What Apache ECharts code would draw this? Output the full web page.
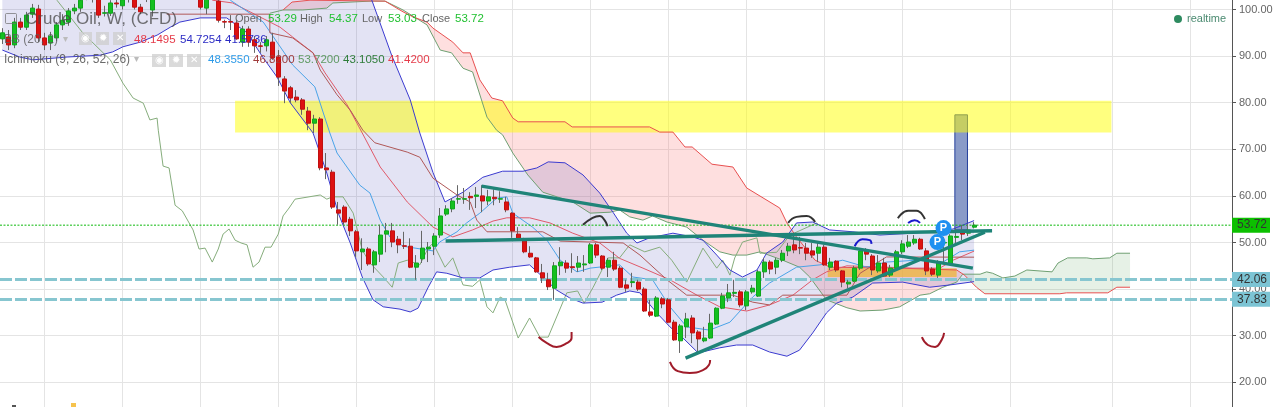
<!DOCTYPE html>
<html><head><meta charset="utf-8">
<style>html,body{margin:0;padding:0;background:#fff;overflow:hidden}#c{width:1273px;height:407px}</style>
<script src="https://cdn.jsdelivr.net/npm/echarts@6/dist/echarts.min.js"></script>
</head><body><div id="c"></div>
<script>
// weekly bars, index 0..162
const opens=[93.7,94.1,92.4,97.3,96.2,99.0,100.1,93.9,92.8,93.9,96.7,97.3,99.7,100.3,102.5,103.5,102.2,99.2,99.2,101.4,100.8,102.8,102.2,100.5,102.2,99.9,104,105,106,107,107,106,105,102.2,100.3,103,101.8,97.4,97.4,97.1,93.0,95.8,93.5,92.2,92.2,93.0,89.8,85.1,83.2,81.2,80.6,78.2,75.6,76.5,66.0,65.1,57.0,57.6,55.0,52.3,48.0,48.6,45.2,47.5,51.8,52.5,50.7,49.3,49.2,44.7,46.5,48.6,49.2,51.6,56.1,57.2,59.3,59.3,59.9,59.9,60.0,58.9,59.7,59.3,58.7,56.3,51.8,50.5,47.7,46.7,43.5,42.0,40.2,45.0,45.6,44.8,44.7,45.2,45.6,49.5,47.1,44.7,46.2,44.5,40.9,41.4,41.5,40.0,35.1,34.2,37.9,37.7,32.9,28.9,31.9,33.8,30.8,28.9,29.5,32.5,35.9,38.1,39.1,39.4,36.4,39.4,38.5,43.7,45.8,44.7,46.2,48.2,49.5,48.9,48.8,48.2,47.7,49.0,44.7,46.0,43.9,41.1,41.7,44.5,48.2,47.1,43.9,45.6,43.0,44.5,48.0,49.2,49.9,50.7,48.2,44.3,43.0,49.9,45.4,51.1,52.3,52.0,53.29];
const closes=[95.0,92.4,97.3,96.2,98.8,100.3,93.9,92.4,94.3,96.7,97.7,99.7,100.3,102.0,103.8,102.5,98.8,99.3,101.4,101.2,102.1,102.2,100.5,99.5,103.4,102.2,105,106,107,108,106,105,104,100.5,102.2,103.6,97.7,97.3,97.3,93.7,95.8,93.0,92.2,92.1,93.5,89.6,85.5,82.5,81.0,80.6,78.6,75.6,76.5,66.0,65.6,57.6,56.3,54.4,52.5,48.2,48.6,45.4,48.0,51.6,52.5,50.1,49.5,49.2,44.7,45.6,48.8,49.0,51.4,55.7,57.2,58.9,59.4,59.4,59.6,60.2,58.9,59.8,59.4,59.4,57.0,52.5,50.7,48.0,46.9,43.7,42.4,40.5,45.0,45.8,44.5,44.6,45.6,45.4,49.5,47.3,44.5,46.2,44.3,40.4,40.2,41.6,40.0,35.3,34.4,38.1,36.8,32.9,29.1,32.1,33.6,30.6,29.3,29.5,32.7,35.9,38.5,39.2,39.3,36.6,39.4,40.2,43.7,45.8,44.3,46.2,47.7,49.2,48.4,48.8,47.7,47.3,49.0,45.2,45.8,44.1,41.5,41.5,44.5,48.2,47.5,44.1,45.6,42.8,44.5,48.0,49.7,50.1,50.7,48.6,43.9,43.2,45.6,50.0,51.4,51.3,51.8,52.7,53.72];
const lows=[92.6,91.3,91.7,95.6,95.6,98.2,93.0,91.3,91.3,93.2,95.6,96.5,99.0,99.5,102.0,101.5,98.2,98.5,98.6,100.4,100.0,101.5,100.0,99.0,101.6,98.5,103.2,104.2,105.2,106.2,105.2,104.2,103.2,100.0,99.0,102.3,97.2,96.0,95.6,93.5,92.0,92.0,90.7,90.7,91.0,89.2,83.6,79.9,79.9,80.1,77.4,74.1,73.5,65.5,63.6,57.2,53.8,53.8,51.4,46.9,44.1,45.0,43.5,45.8,47.9,49.0,47.7,48.6,44.5,42.0,45.6,45.8,47.3,51.0,55.7,56.5,58.3,58.3,57.0,57.4,56.5,58.0,58.0,58.5,56.5,51.0,50.5,47.7,46.7,43.5,41.3,39.8,37.7,43.0,43.5,43.5,43.7,43.7,45.4,46.7,44.1,42.6,43.9,40.2,39.4,40.4,39.6,35.1,34.0,34.0,35.9,32.7,28.9,26.3,29.5,28.4,26.5,28.6,29.3,32.3,35.7,37.2,38.3,36.1,35.5,39.0,38.3,42.4,43.2,43.2,45.8,47.1,47.7,47.5,46.2,46.7,45.8,45.0,44.1,43.7,40.4,40.2,41.5,44.1,46.2,43.0,43.5,42.6,42.6,44.1,47.5,48.8,49.5,48.4,43.0,42.8,42.4,45.8,45.2,49.9,50.5,51.4,53.03];
const highs=[96.0,95.6,98.2,98.2,99.5,101.2,101.0,95.0,95.2,97.3,99.0,100.3,101.2,102.7,104.5,104.3,103.0,100.8,102.0,102.2,103.0,104.0,103.0,101.2,104.2,103.0,106,107,108,109,108,107,106,103.5,103.0,104.3,102.6,97.8,98.8,97.7,96.5,96.4,94.3,93.0,94.3,95.0,91.3,85.7,83.6,82.7,81.0,79.1,77.4,76.9,69.2,65.6,58.7,58.0,55.5,52.7,50.9,49.0,48.4,53.8,54.2,54.2,51.4,52.3,50.9,47.3,52.5,50.1,52.0,57.4,58.0,59.5,62.3,61.7,60.8,61.9,62.3,61.3,61.4,61.0,59.8,56.5,53.3,51.0,49.2,46.9,45.4,43.5,45.8,49.0,46.2,47.7,47.1,47.3,49.9,49.9,47.3,46.7,48.0,45.0,42.0,43.5,42.0,40.4,37.7,38.5,38.3,38.1,33.4,32.5,34.9,34.4,31.2,31.9,34.7,36.1,39.2,41.1,42.0,39.8,39.8,40.9,44.1,46.7,46.2,46.7,48.4,49.9,51.6,51.2,49.9,49.9,49.9,49.5,46.7,46.2,44.1,42.0,45.0,48.8,48.8,47.5,47.3,46.7,45.2,48.4,50.5,51.6,51.6,51.0,48.8,44.7,46.2,51.2,51.8,53.1,53.8,54.0,54.37];

const bbUpper=[[0,125],[30,120],[55,108],[61.6,102.0],[64.9,90.2],[68,80.6],[69.6,73.5],[71.8,65.0],[73.8,58.7],[76.8,60.8],[80.1,64.0],[83.4,65.3],[86.8,65.3],[89.1,66.0],[91,67.3],[93.8,67.1],[96.8,64.5],[99.6,60.6],[101.8,56.5],[104.1,52.0],[105.8,49.9],[107.9,51.0],[111.8,52.0],[115.1,51.2],[116.8,50.5],[119.1,47.3],[121.3,44.1],[123.4,42.6],[125.8,44.1],[127.4,47.7],[130.1,50.1],[132.4,54.2],[135.1,54.4],[137.9,52.7],[141.8,52.3],[146.3,51.6],[151.8,52.0],[158.5,52.9],[162,54.7]];
const bbLower=[[0,91.3],[2.9,89.8],[5.1,89.2],[10.8,89.8],[16.3,90.2],[18.4,90.9],[20.1,92],[23,93],[25.8,94.5],[28,96.2],[29.6,97.3],[33,98.2],[37.4,98.2],[40.8,95],[43.4,89.8],[45.8,85.5],[48,80],[51.8,73.5],[54.1,64.9],[56,56.3],[58,49.9],[60,42.6],[61.8,37.7],[63.5,36.2],[66.3,35.7],[68,35.1],[69.3,35.9],[71,40.4],[72.4,43.7],[74.1,43.4],[76.8,42.4],[79.6,42.4],[81.8,44.1],[84.6,44.7],[87.9,45.2],[90.1,42.6],[92.4,39.8],[94.6,38.1],[96.8,37.0],[100,37.2],[102.4,38.7],[104.6,39.6],[106.3,39.2],[109.1,34.9],[111.3,31.9],[113.8,29.1],[116,26.3],[119.6,27.4],[122.4,28],[125.1,28],[127.9,26.5],[130.8,25.6],[132.9,26.9],[135.1,30.6],[137.4,34.9],[139.1,37],[141.8,38.3],[145.1,41.3],[150.1,41.5],[154.6,40.4],[158,40.9],[162,41.6]];
const bbBasis=[[35,102],[38.4,101.4],[46.3,96.2],[48.4,94.1],[51.8,90.7],[53.8,86.4],[57.5,79.5],[60,73.5],[63,66.2],[67.5,58.7],[71.8,53.3],[75.1,51.2],[78.4,52.7],[81.8,54.6],[84.1,55.3],[87.9,55.3],[91.3,54.2],[95.1,52],[99.6,49.9],[102.9,46.6],[106.8,44.5],[111.3,42],[115.8,38.7],[119.6,36.2],[124.1,35.3],[127.9,36.6],[131.8,38.7],[135.1,42],[137.4,43.7],[140.8,45],[147.4,44.7],[151.8,44.5],[156.3,44.5],[158.5,46.2],[162,48.15]];
const tenkan=[[38,102],[43.5,97.3],[48.4,88.1],[52.1,83.4],[54.6,73.5],[55.8,69.2],[59.6,62.3],[61.3,60.6],[63,54.8],[64.6,51.2],[66.8,49.2],[71.8,48.2],[72.9,50.1],[75.8,52.3],[77.4,54.2],[79.6,56.3],[82.4,59.5],[84.1,59.8],[85.1,56.3],[88.4,53.3],[90.8,50.5],[93,46.2],[95.8,43.7],[98,44.5],[102.9,45.2],[105.1,42.6],[108.4,42],[111.3,36.2],[114.1,31.9],[117.9,31.2],[121.3,32.9],[125.1,38.3],[127.9,41.3],[132.4,44.7],[136.3,45.2],[140.1,46.2],[144.1,44.7],[147.4,45.8],[152.4,46.2],[156.8,45.8],[159.6,48],[162,48.36]];
const kijun=[[27.4,99],[44.6,99],[44.6,95],[48.4,93.9],[51.8,90.7],[53,87],[55.8,81.7],[58,78.4],[60.1,74.1],[62.1,71.4],[67.5,69.4],[69.6,68.3],[71.8,63.8],[75.8,60.2],[78,58.7],[79.1,54.8],[80.8,52.3],[90.1,52.3],[93,50.3],[103.5,49.9],[106.3,47.3],[110.8,42],[114.1,38.7],[121.8,38.7],[125.1,37.2],[127.9,36.6],[130.1,38.7],[140.8,38.7],[143,43.4],[147.4,46.9],[162,46.85]];
const chikou=[[9.1,102],[13.4,95],[18,89.2],[20.1,84.2],[21.8,81],[23.5,79.9],[24.6,76.3],[25.8,76.7],[26,74.1],[26.8,66.4],[27.8,66],[28.8,58],[30,56.8],[31.8,52.7],[32.8,48.6],[33.8,48.8],[35,45.8],[36,48.6],[36.8,51.8],[37.8,52.9],[38.8,50.5],[39.8,49.9],[40.8,49.5],[41.8,44.7],[42.8,45.8],[43.8,49],[44.8,49],[46,51.8],[46.8,55.7],[47.8,57.4],[48.8,59.3],[53,60.2],[54.1,59.3],[55,59.8],[56.8,59.8],[58.5,56.3],[60,48.4],[61.3,45.6],[63.5,42.6],[65,40.4],[66,45.6],[67.5,46.2],[69.6,45.2],[71,48.8],[71.8,49.9],[73.8,44.7],[75.1,46.7],[76.8,40.9],[78.4,40.6],[79.6,42],[80.8,36.2],[81.8,34.9],[83,38.3],[83.8,37.7],[86,29.5],[87.9,33.8],[89.6,29.7],[91,29.7],[94.1,39.2],[95.9,39.6],[97,37],[98.5,40.4],[101,46.7],[102.9,46.7],[104.6,49.5],[107.1,48],[109.6,49],[111.6,46.2],[114.1,41.5],[116.8,48.8],[119.1,44.5],[120.1,46.2],[121.3,43],[122.1,46.7],[123.4,50.1],[125.8,51],[126.3,47.7],[129.1,47.9],[131.3,51.6],[135.8,54.2],[136,53.72]];
const spanA=[[44.6,99.2],[46.8,99.9],[50.1,99.9],[54.1,100.3],[55.1,101.4],[61.3,101.8],[63.8,101.8],[66.8,99.9],[70.8,96.7],[73,91.3],[74.9,90.7],[76.8,87.4],[78.4,86.6],[80.8,76.9],[82.4,74.1],[83.4,73.1],[85.1,69.2],[87.6,64.5],[90.1,60.8],[95.1,58.7],[98,56.3],[101.3,56.5],[102.9,57],[104.6,55.5],[106.8,54.8],[108.4,55.7],[110.8,54.4],[114.1,53.3],[116.8,50.5],[119.6,48],[121.8,47.3],[124.1,47.3],[126.3,48],[130.1,46.2],[132.9,44.7],[134.6,42.6],[137.4,37.7],[140.8,36],[143,35.3],[146.8,35.5],[149.6,36.2],[153,38.7],[154.6,39],[156.8,40.4],[159.1,41.5],[160.1,43.2],[163,43.2],[164.1,43.7],[165.1,43.4],[166.8,42.4],[168.8,42.8],[170.8,44.1],[175,43.7],[176,45.6],[177.6,46.7],[180.8,46.7],[181.8,46.5],[184.6,46.7],[185.8,47.7],[188,47.7]];
const spanB=[[46.8,99.9],[48.3,101.6],[51.3,102],[63.8,101.8],[66.8,99.5],[68.5,98.4],[70.8,97.3],[71.8,96],[75.1,93],[76.8,90.7],[78,90.7],[79.6,84.9],[81.6,81],[83.4,80.4],[85.1,76.7],[86,75.9],[93.8,75.9],[95,74.8],[107.9,74.8],[109.6,73.7],[111.8,73.7],[113.8,70.5],[115,70.5],[118.3,66.8],[121.8,66.2],[124.1,61.7],[129.6,57.4],[130.8,54.2],[132.4,51.2],[135.5,46.2],[138,44.7],[149.6,44.5],[159.1,44.1],[160.4,43],[162.4,40.4],[163.8,39],[176.3,39],[177.4,39.2],[184.3,39.2],[185.8,40.4],[188,40.4]];

const lastPrice=53.72, levelA=42.06, levelB=37.83;
const priceLineSpan=[-0.388,205];
const yellowZone=[38.8,184.9,73.6,80.4];
const orangeZone=[137.6,159.1,42.6,44.5];
const targetBar=[158.8,160.9,52.7,77.4];
const trend1=[[79.9,62.1],[161.8,44.5]];
const trend2=[[73.9,50.3],[165,52.5]];
const trend3=[[113.9,25.2],[163.8,52.2]];
const redArcs=[[[89.4,29.7],[90.8,28.4],[92.4,27.6],[94.1,28.4],[94.9,29.5],[94.9,30.8]],[[111.3,24.4],[112.6,22.4],[114.6,22],[116.8,22.6],[117.8,23.7],[118,24.8]],[[153.3,29.7],[154.3,28],[155.5,27.6],[156.6,29.1],[157,30.6]]];
const darkArcs=[[[96.8,53.8],[98.4,55.3],[99.6,55.7],[100.4,54.8],[100.9,53.5]],[[131,54.2],[132.4,55.5],[134.1,55.7],[135.5,54.4]],[[149.3,55.2],[151,56.8],[152.4,56.8],[153.8,55]]];
const blueArcs=[[[142.1,49.2],[143.4,50.7],[144.6,50.5],[144.9,49.7]],[[151,54.2],[152.1,54.8],[153,54.2]]];
const pMarks=[[156.9,53.1],[155.9,50.1]];
const gridBars=[7,20,33,46,59,72,85,98,111,124,137,150,168,185,198];
const priceTicks=[20,30,40,50,60,70,80,90,100];

const barIdx=opens.map((_,i)=>i);
const FONT='"Liberation Sans",Arial,sans-serif';
const series=[];
function area(pts,fill,z,stroke){
  series.push({type:'custom',silent:true,z,data:[[pts[0][0],pts[0][1]]],encode:{x:0,y:1},
    renderItem:(p,api)=>({type:'polygon',shape:{points:pts.map(q=>api.coord(q))},style:{fill,stroke:stroke||'none',lineWidth:stroke?1:0}})});
}
function rect(r){return [[r[0],r[2]],[r[1],r[2]],[r[1],r[3]],[r[0],r[3]]];}
function line(data,color,width,z,smooth,type){
  series.push({type:'line',data,showSymbol:false,symbol:'none',silent:true,z,smooth:!!smooth,clip:false,lineStyle:{color,width,type:type||'solid',cap:'butt'}});
}
const crossX=160.25;
const pinkPts=spanB.filter(q=>q[0]<crossX).concat(spanA.filter(q=>q[0]<crossX).reverse());
const greenPts=spanA.filter(q=>q[0]>=crossX).concat(spanB.filter(q=>q[0]>=crossX).reverse());
area(pinkPts,'rgba(250,110,110,0.22)',1);
area(greenPts,'rgba(90,160,90,0.15)',1);
area(bbUpper.concat(bbLower.slice().reverse()),'rgba(70,70,180,0.15)',1);
area(rect(targetBar),'#8a9bc8',2,'#24409c');
area(rect(yellowZone),'rgba(255,255,0,0.5)',3);
area(rect(orangeZone),'rgba(240,180,50,0.72)',3);
line(spanA,'#6fa072',1,4);
line(spanB,'#e85050',1,4);
line(chikou,'#86ad7c',1,4);
line(bbUpper,'#3b3bd0',1,4);
line(bbLower,'#3b3bd0',1,4);
line(bbBasis,'#e05a6a',1,4);
line(tenkan,'#4aa3e8',1,4);
line(kijun,'#b05858',1,4);
function hLevel(v,lineStyle,bg,z){
  series.push({type:'line',data:[],silent:true,z,
    markLine:{silent:true,symbol:'none',animation:false,lineStyle,
      label:{show:true,position:'end',distance:0,formatter:v.toFixed(2),color:'#333',backgroundColor:bg,fontFamily:FONT,fontSize:12,padding:[2,2,1,5],width:31,align:'left',opacity:1},
      data:[{yAxis:v}]}});
}
hLevel(levelA,{color:'#87c6d0',width:3,type:[12,3]},'#7cc4d4',5);
hLevel(levelB,{color:'#87c6d0',width:3,type:[12,3]},'#7cc4d4',5);
hLevel(lastPrice,{color:'rgba(0,0,0,0)',width:1,type:'solid'},'#0cc000',5);
line(priceLineSpan.map(x=>[x,lastPrice]),'#0cb80c',1,5,false,[2,1.5]);
// wicks, then coloured bodies
series.push({type:'candlestick',z:6,silent:true,barWidth:1,data:barIdx.map(i=>[i,opens[i],closes[i],lows[i],highs[i]]),
  itemStyle:{color:'#666',color0:'#666',borderColor:'#666',borderColor0:'#666',borderWidth:1}});
series.push({type:'candlestick',z:7,silent:true,barWidth:4.5,data:barIdx.map(i=>[i,opens[i],closes[i],Math.min(opens[i],closes[i]),Math.max(opens[i],closes[i])]),
  itemStyle:{color:'#14c020',color0:'#dd1111',borderColor:'#0fa51c',borderColor0:'#c01010',borderWidth:1}});
[trend1,trend2,trend3].forEach(t=>line(t,'#1f8478',3.5,8));
redArcs.forEach(a=>line(a,'#a01c2a',2,8,true));
darkArcs.forEach(a=>line(a,'#333',2,8,true));
blueArcs.forEach(a=>line(a,'#1a1acc',2,8,true));
series.push({type:'scatter',z:9,silent:true,data:pMarks,symbolSize:16,itemStyle:{color:'#1e90f0',opacity:1},
  label:{show:true,position:'inside',formatter:'P',color:'#fff',fontWeight:'bold',fontSize:11,fontFamily:FONT}});

const g=[];
function txt(s,x,y,color,size,align){g.push({type:'text',x,y,z:20,silent:true,style:{text:s,fill:color,font:size+'px '+FONT,textAlign:align||'left',textVerticalAlign:'middle',textBaseline:'middle'}});}
const icons=['◉','✹','✕'];
function box(x,y,w,h,k){g.push({type:'rect',z:19,silent:true,shape:{x,y,width:w,height:h},style:{fill:'rgba(205,205,205,0.75)'}});txt(icons[k],x+w/2,y+h/2,'#fff',10,'center');}
const GRN='#1fc02f',GRY='#666';
g.push({type:'rect',z:20,silent:true,shape:{x:5.5,y:13.5,width:11,height:10,r:1},style:{fill:'none',stroke:'rgba(110,110,110,.7)',lineWidth:1}});
txt('Crude Oil, W, (CFD)',25,19,'rgba(70,70,70,0.75)',17);
txt('Open',235,19,GRY,11);txt('53.29',268,19,GRN,11.5);
txt('High',300,19,GRY,11);txt('54.37',329,19,GRN,11.5);
txt('Low',362,19,GRY,11);txt('53.03',388,19,GRN,11.5);
txt('Close',422,19,GRY,11);txt('53.72',455,19,GRN,11.5);
txt('BB (20, 2)',4,40,'rgba(90,90,90,.8)',12);txt('▾',63,39,'#bbb',10);
[79,96,113].forEach((x,k)=>box(x,32,13,13,k));
txt('48.1495',134,40,'#e53c4a',11.5);txt('54.7254',180,40,'#2b2bc4',11.5);txt('41.5736',225,40,'#2b2bc4',11.5);
txt('Ichimoku (9, 26, 52, 26)',4,60,'rgba(90,90,90,.9)',12);txt('▾',134,59,'#bbb',10);
[152,169,187].forEach((x,k)=>box(x,54,14,13,k));
txt('48.3550',208,60,'#2e9be8',11.5);txt('46.8200',253,60,'#a03c3c',11.5);txt('53.7200',298,60,'#5f9a63',11.5);txt('43.1050',343,60,'#2f7d3a',11.5);txt('41.4200',388,60,'#e53c4a',11.5);
g.push({type:'circle',z:20,silent:true,shape:{cx:1178,cy:19,r:4},style:{fill:'#2e8b60'}});
txt('realtime',1187,19,'#4a8a70',11);
g.push({type:'rect',z:20,silent:true,shape:{x:12,y:405,width:4,height:2},style:{fill:'#555'}});
g.push({type:'rect',z:20,silent:true,shape:{x:71,y:403,width:5,height:4},style:{fill:'#f6c34d'}});

const chart=echarts.init(document.getElementById('c'),null,{renderer:'canvas'});
chart.setOption({animation:false,backgroundColor:'#fff',tooltip:{show:false},
  grid:{left:0,top:0,right:41,bottom:0,containLabel:false,outerBoundsMode:'none'},
  xAxis:{type:'value',min:-0.388,max:205,axisLabel:{show:false},axisLine:{show:false},
    axisTick:{show:false,customValues:gridBars},splitLine:{show:true,lineStyle:{color:'#e4e4e4',width:1}}},
  yAxis:{type:'value',position:'right',min:14.7,max:102.04,
    axisLine:{show:true,onZero:false,lineStyle:{color:'#555',width:1}},
    axisTick:{show:true,length:4,inside:false,customValues:priceTicks,lineStyle:{color:'#555'}},
    axisLabel:{show:true,customValues:priceTicks,margin:7,color:'#666',fontFamily:FONT,fontSize:11,formatter:v=>v.toFixed(2)},
    splitLine:{show:true,lineStyle:{color:'#e4e4e4',width:1}}},
  graphic:g,series});
</script></body></html>
